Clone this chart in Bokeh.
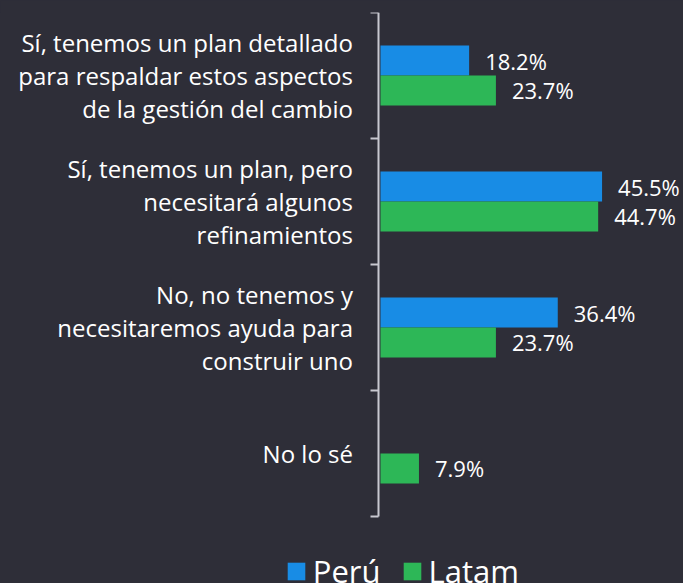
import numpy as np
from bokeh.plotting import figure
from bokeh.models import ColumnDataSource, Range1d, FixedTicker, Legend, LegendItem
from bokeh.transform import dodge
from bokeh.embed import file_html
from bokeh.resources import INLINE
from bokeh.core.properties import value
from bokeh.core.templates import get_env

# ---- data ----
categories = [
    "Sí, tenemos un plan detallado\npara respaldar estos aspectos\nde la gestión del cambio",
    "Sí, tenemos un plan, pero\nnecesitará algunos\nrefinamientos",
    "No, no tenemos y\nnecesitaremos ayuda para\nconstruir uno",
    "No lo sé",
]
peru = [18.2, 45.5, 36.4, None]
latam = [23.7, 44.7, 23.7, 7.9]
series = ["Perú", "Latam"]
colors = ["#188ce5", "#2db757"]

BG = "#2e2e38"
TXT = "#ffffff"
AX = "#c8c8d0"
FONT = "Open Sans"

n = len(categories)
pos = np.arange(n) + 0.5

def make_source(vals):
    idx = [i for i, v in enumerate(vals) if v is not None]
    return ColumnDataSource(dict(
        pos=[pos[i] for i in idx],
        val=[vals[i] for i in idx],
        lab=[f"{vals[i]:.1f}%" for i in idx],
    ))

src_peru = make_source(peru)
src_latam = make_source(latam)

# the frame spans the whole canvas; the value axis starts at 0 and the
# category axis is pinned there, the room left/below holds labels and legend
p = figure(width=683, height=583,
           x_range=Range1d(-78.03, 62.22), y_range=Range1d(n + 0.5317, 0),
           output_backend="svg", toolbar_location=None,
           min_border_left=0, min_border_right=0,
           min_border_top=12, min_border_bottom=0,
           background_fill_color=BG, border_fill_color=BG,
           outline_line_color=None)

BAR_H = 0.238
OFF = 0.119
renderers = []
for src, off, col in [(src_peru, -OFF, colors[0]), (src_latam, OFF, colors[1])]:
    r = p.hbar(y=dodge("pos", off), left=0, right="val", height=BAR_H,
               source=src, fill_color=col, line_color=None)
    renderers.append(r)
    p.text(x="val", y=dodge("pos", off), text="lab", source=src,
           x_offset=16, text_align="left", text_baseline="middle",
           text_color=TXT, text_font=value(FONT), text_font_size="22px")

p.xaxis.visible = False
p.xgrid.visible = False
p.ygrid.visible = False

ya = p.yaxis[0]
ya.fixed_location = -0.31
ya.bounds = (0, n)
ya.ticker = FixedTicker(ticks=list(pos), minor_ticks=list(range(n + 1)))
ya.major_label_overrides = {float(pos[i]): categories[i] for i in range(n)}
ya.major_tick_out = 0
ya.major_tick_in = 0
ya.minor_tick_out = 8
ya.minor_tick_in = 0
ya.minor_tick_line_color = AX
ya.minor_tick_line_width = 2
ya.axis_line_color = AX
ya.axis_line_width = 2
ya.major_label_standoff = 18
ya.major_label_text_color = TXT
ya.major_label_text_font = FONT
ya.major_label_text_font_size = "24px"
ya.major_label_text_line_height = 0.99

legend = Legend(items=[LegendItem(label=series[i], renderers=[renderers[i]]) for i in range(2)],
                orientation="horizontal", location=(284.75, -9),
                glyph_width=22, glyph_height=22, label_standoff=6, spacing=20,
                padding=0, margin=0, border_line_color=None, background_fill_alpha=0,
                label_text_color=TXT, label_text_font=FONT, label_text_font_size="31px")
p.add_layout(legend, "center")

tpl = get_env().from_string(
    '{% extends "file.html" %}{% block preamble %}<style>html,body{background:#2e2e38;}</style>{% endblock %}'
)
open("out.html", "w").write(file_html(p, INLINE, template=tpl))
